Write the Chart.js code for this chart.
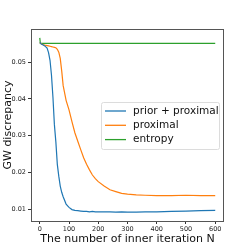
<!DOCTYPE html>
<html>
<head>
<meta charset="utf-8">
<script src="https://cdn.jsdelivr.net/npm/chart.js"></script>
<style>
  html, body { margin: 0; padding: 0; background: #fff; }
  #wrap { width: 249px; height: 249px; }
</style>
</head>
<body>
<div id="wrap"><canvas id="chart" width="249" height="249"></canvas></div>
<script>
// 데이터: 반복 횟수와 각 방법의 GW discrepancy
const iterations = [0, 2, 5, 10, 17, 25, 30, 35, 40, 45, 50, 55, 60, 65, 70, 75, 80, 90, 100, 110, 120, 130, 140, 150, 160, 170, 180, 190, 200, 220, 240, 260, 280, 300, 330, 360, 400, 450, 500, 550, 600];
const priorProximal = [0.0553, 0.0552, 0.0549, 0.0547, 0.0544, 0.0538, 0.0526, 0.0505, 0.0465, 0.0405, 0.0330, 0.0283, 0.0222, 0.0190, 0.0163, 0.0146, 0.0134, 0.0114, 0.0105, 0.0099, 0.0097, 0.0096, 0.0095, 0.0094, 0.0094, 0.0093, 0.0094, 0.0093, 0.0093, 0.0093, 0.0093, 0.0092, 0.0093, 0.0092, 0.0092, 0.0093, 0.0093, 0.0094, 0.0095, 0.0096, 0.0097];
const proximal = [0.0553, 0.0552, 0.0550, 0.0548, 0.0546, 0.0545, 0.0544, 0.0543, 0.0542, 0.0541, 0.0540, 0.0539, 0.0535, 0.0527, 0.0510, 0.0476, 0.0436, 0.0396, 0.0370, 0.0338, 0.0308, 0.0285, 0.0262, 0.0240, 0.0222, 0.0207, 0.0193, 0.0183, 0.0175, 0.0163, 0.0153, 0.0148, 0.0143, 0.0141, 0.0139, 0.0138, 0.0137, 0.0137, 0.0138, 0.0137, 0.0137];
const entropy = [0.0566, 0.0551, 0.0551, 0.0551, 0.0551, 0.0551, 0.0551, 0.0551, 0.0551, 0.0551, 0.0551, 0.0551, 0.0551, 0.0551, 0.0551, 0.0551, 0.0551, 0.0551, 0.0551, 0.0551, 0.0551, 0.0551, 0.0551, 0.0551, 0.0551, 0.0551, 0.0551, 0.0551, 0.0551, 0.0551, 0.0551, 0.0551, 0.0551, 0.0551, 0.0551, 0.0551, 0.0551, 0.0551, 0.0551, 0.0551, 0.0551];
const seriesLabels = ['prior + proximal', 'proximal', 'entropy'];
const xTicks = [0, 100, 200, 300, 400, 500, 600];
const yTicks = [0.01, 0.02, 0.03, 0.04, 0.05];

const colors = ['#1f77b4', '#ff7f0e', '#2ca02c'];
const FONT = 'DejaVu Sans';

function toPoints(values) {
    return iterations.map((x, i) => ({ x: x, y: values[i] }));
}

// 축 테두리 (matplotlib 스타일 상자)
const frame = {
    id: 'frame',
    afterDatasetsDraw(chart) {
        const a = chart.chartArea;
        const ctx = chart.ctx;
        ctx.save();
        ctx.strokeStyle = '#555';
        ctx.lineWidth = 1;
        ctx.strokeRect(Math.round(a.left) + 0.5, Math.round(a.top) + 0.5,
            Math.round(a.right - a.left) - 1, Math.round(a.bottom - a.top));
        ctx.restore();
    }
};

// 범례: 차트 영역 안쪽 오른쪽
const innerLegend = {
    id: 'innerLegend',
    afterDraw(chart) {
        const ctx = chart.ctx;
        const x = 101, y = 102, w = 118, h = 47;
        ctx.save();
        ctx.fillStyle = 'rgba(255,255,255,0.85)';
        ctx.strokeStyle = '#dcdcdc';
        ctx.lineWidth = 1;
        ctx.beginPath();
        ctx.roundRect(x + 0.5, y + 0.5, w, h, 2);
        ctx.fill();
        ctx.stroke();
        ctx.font = '10.5px "' + FONT + '"';
        ctx.textBaseline = 'middle';
        chart.data.datasets.forEach((ds, i) => {
            const cy = y + 9 + i * 14.3;
            ctx.strokeStyle = ds.borderColor;
            ctx.lineWidth = 1.3;
            ctx.beginPath();
            ctx.moveTo(x + 4, cy);
            ctx.lineTo(x + 25, cy);
            ctx.stroke();
            ctx.fillStyle = '#111';
            ctx.fillText(ds.label, x + 32, cy);
        });
        ctx.restore();
    }
};

new Chart(document.getElementById('chart'), {
    type: 'line',
    data: {
        datasets: [priorProximal, proximal, entropy].map((vals, i) => ({
            label: seriesLabels[i],
            data: toPoints(vals),
            borderColor: colors[i],
            borderWidth: 1.2,
            pointRadius: 0,
            tension: 0,
            fill: false
        }))
    },
    options: {
        responsive: false,
        animation: false,
        devicePixelRatio: 1,
        layout: { padding: { top: 29, right: 25, left: 0, bottom: 0 } },
        plugins: { legend: { display: false }, tooltip: { enabled: false } },
        scales: {
            x: {
                type: 'linear',
                min: -30,
                max: 630,
                afterBuildTicks: (s) => { s.ticks = xTicks.map(v => ({ value: v })); },
                afterFit: (s) => { s.height = 28; },
                grid: { drawOnChartArea: false, drawTicks: true, tickLength: 3, color: '#333' },
                border: { display: false },
                ticks: { font: { family: FONT, size: 6.5 }, color: '#222', padding: 1, maxRotation: 0 },
                title: { display: true, text: 'The number of inner iteration N', font: { family: FONT, size: 11 }, color: '#111', padding: { top: 0, bottom: 3 } }
            },
            y: {
                min: 0.0068,
                max: 0.059,
                afterBuildTicks: (s) => { s.ticks = yTicks.map(v => ({ value: v })); },
                afterFit: (s) => { s.width = 31; },
                grid: { drawOnChartArea: false, drawTicks: true, tickLength: 3, color: '#333' },
                border: { display: false },
                ticks: { font: { family: FONT, size: 6.5 }, color: '#222', padding: 2, callback: (v) => v.toFixed(2) },
                title: { display: true, text: 'GW discrepancy', font: { family: FONT, size: 11 }, color: '#111', padding: { top: 1.5, bottom: 2 } }
            }
        }
    },
    plugins: [frame, innerLegend]
});
</script>
</body>
</html>
